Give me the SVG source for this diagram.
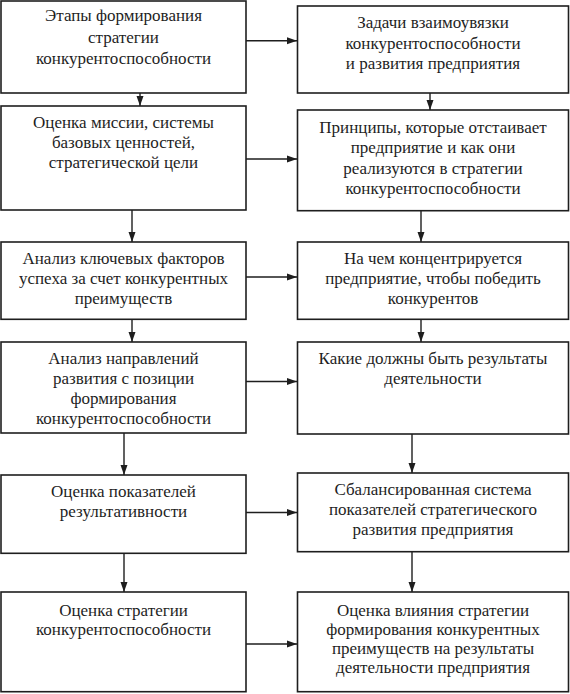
<svg xmlns="http://www.w3.org/2000/svg" width="570" height="694" viewBox="0 0 570 694" font-family="Liberation Serif, DejaVu Serif, serif">
<style>
.box{fill:#fff;stroke:#1e1e1e;stroke-width:1.6}
.t{font-size:17px;fill:#1e1e1e;text-anchor:middle}
.c{stroke:#1e1e1e;stroke-width:1.4;fill:none}
</style>
<defs>
<marker id="ah" markerUnits="userSpaceOnUse" markerWidth="11" markerHeight="8" refX="10" refY="4" orient="auto">
<path d="M0,0.5 L10,4 L0,7.5 z" fill="#1e1e1e"/>
</marker>
</defs>
<rect width="570" height="694" fill="#fff"/>
<g id="connectors">
<line class="c" x1="246" y1="40.7" x2="297" y2="40.7" marker-end="url(#ah)"/>
<line class="c" x1="246" y1="159" x2="297" y2="159" marker-end="url(#ah)"/>
<line class="c" x1="246" y1="277" x2="297" y2="277" marker-end="url(#ah)"/>
<line class="c" x1="246" y1="381.5" x2="297" y2="381.5" marker-end="url(#ah)"/>
<line class="c" x1="246" y1="512.5" x2="297" y2="512.5" marker-end="url(#ah)"/>
<line class="c" x1="246" y1="644" x2="297" y2="644" marker-end="url(#ah)"/>
<line class="c" x1="140" y1="93" x2="140" y2="106" marker-end="url(#ah)"/>
<line class="c" x1="430" y1="93" x2="430" y2="110" marker-end="url(#ah)"/>
<line class="c" x1="132" y1="210" x2="132" y2="242" marker-end="url(#ah)"/>
<line class="c" x1="421" y1="210.7" x2="421" y2="242" marker-end="url(#ah)"/>
<line class="c" x1="132" y1="319.3" x2="132" y2="342" marker-end="url(#ah)"/>
<line class="c" x1="421" y1="319.3" x2="421" y2="342" marker-end="url(#ah)"/>
<line class="c" x1="124" y1="433" x2="124" y2="475" marker-end="url(#ah)"/>
<line class="c" x1="412" y1="434" x2="412" y2="473" marker-end="url(#ah)"/>
<line class="c" x1="124" y1="553.3" x2="124" y2="592" marker-end="url(#ah)"/>
<line class="c" x1="412" y1="551.7" x2="412" y2="592" marker-end="url(#ah)"/>
</g>
<g id="L1">
<rect class="box" x="1" y="1" width="245" height="92"/>
<text class="t" x="123.5" y="21" font-family="Liberation Serif">Этапы формирования</text>
<text class="t" x="123.5" y="42.5" font-family="Liberation Serif">стратегии</text>
<text class="t" x="123.5" y="64" font-family="Liberation Serif">конкурентоспособности</text>
</g>
<g id="R1">
<rect class="box" x="297.5" y="6" width="271" height="87"/>
<text class="t" x="433" y="28">Задачи взаимоувязки</text>
<text class="t" x="433" y="48.5">конкурентоспособности</text>
<text class="t" x="433" y="69">и развития предприятия</text>
</g>
<g id="L2">
<rect class="box" x="1" y="106" width="245" height="104"/>
<text class="t" x="123.5" y="128">Оценка миссии, системы</text>
<text class="t" x="123.5" y="148">базовых ценностей,</text>
<text class="t" x="123.5" y="168">стратегической цели</text>
</g>
<g id="R2">
<rect class="box" x="297.5" y="110" width="271" height="100.7"/>
<text class="t" x="433" y="132.5">Принципы, которые отстаивает</text>
<text class="t" x="433" y="153">предприятие и как они</text>
<text class="t" x="433" y="173.5">реализуются в стратегии</text>
<text class="t" x="433" y="193.5">конкурентоспособности</text>
</g>
<g id="L3">
<rect class="box" x="1" y="242" width="245" height="77.3"/>
<text class="t" x="123.5" y="263.5">Анализ ключевых факторов</text>
<text class="t" x="123.5" y="283.5">успеха за счет конкурентных</text>
<text class="t" x="123.5" y="303.5">преимуществ</text>
</g>
<g id="R3">
<rect class="box" x="297.5" y="242" width="271" height="77.3"/>
<text class="t" x="433" y="263.5">На чем концентрируется</text>
<text class="t" x="433" y="283.5">предприятие, чтобы победить</text>
<text class="t" x="433" y="303.5">конкурентов</text>
</g>
<g id="L4">
<rect class="box" x="1" y="342" width="245" height="91"/>
<text class="t" x="123.5" y="364">Анализ направлений</text>
<text class="t" x="123.5" y="384">развития с позиции</text>
<text class="t" x="123.5" y="404">формирования</text>
<text class="t" x="123.5" y="423.5">конкурентоспособности</text>
</g>
<g id="R4">
<rect class="box" x="297.5" y="342" width="271" height="92"/>
<text class="t" x="433" y="364">Какие должны быть результаты</text>
<text class="t" x="433" y="384">деятельности</text>
</g>
<g id="L5">
<rect class="box" x="1" y="475" width="245" height="78.3"/>
<text class="t" x="123.5" y="497">Оценка показателей</text>
<text class="t" x="123.5" y="517">результативности</text>
</g>
<g id="R5">
<rect class="box" x="297.5" y="473" width="271" height="78.7"/>
<text class="t" x="433" y="495">Сбалансированная система</text>
<text class="t" x="433" y="515">показателей стратегического</text>
<text class="t" x="433" y="535">развития предприятия</text>
</g>
<g id="L6">
<rect class="box" x="1" y="592" width="245" height="99.7"/>
<text class="t" x="123.5" y="616">Оценка стратегии</text>
<text class="t" x="123.5" y="635">конкурентоспособности</text>
</g>
<g id="R6">
<rect class="box" x="297.5" y="592" width="271" height="99.7"/>
<text class="t" x="433" y="616">Оценка влияния стратегии</text>
<text class="t" x="433" y="635">формирования конкурентных</text>
<text class="t" x="433" y="654">преимуществ на результаты</text>
<text class="t" x="433" y="673">деятельности предприятия</text>
</g>
</svg>
